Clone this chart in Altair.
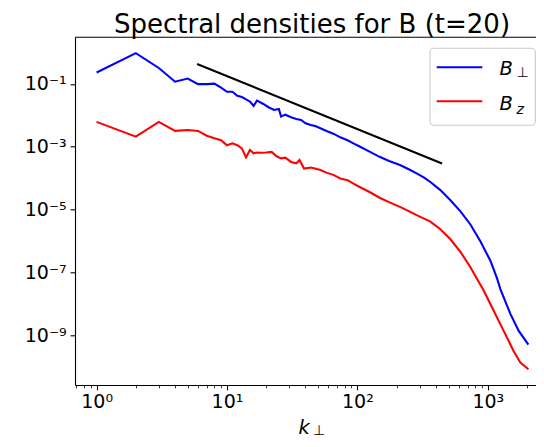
import altair as alt
import pandas as pd

# ---------------- data ----------------
title_text = "Spectral densities for B (t=20)"
series_names = ["B⊥", "Bz"]
series_colors = ["#0000ff", "#ff0000"]
legend_base = ["B", "B"]
legend_sub = ["⊥", "z"]

k_perp = [1, 2, 3, 4, 5, 6, 7, 8, 9, 10, 11, 12, 13, 14, 15, 16, 17, 19, 21, 23,
          25, 26, 28, 31, 34, 37, 40, 44, 48, 52, 58, 66, 74, 84, 94, 105, 125,
          148, 175, 212, 250, 287, 325, 363, 433, 517, 617, 736, 877, 1047,
          1178, 1249, 1490, 1727, 2048]
E_perp = [2.3e-1, 9.5e-1, 3.2e-1, 1.17e-1, 1.48e-1, 9.8e-2, 9.8e-2, 1.02e-1,
          7.6e-2, 5.6e-2, 5.6e-2, 4.2e-2, 3.8e-2, 3.2e-2, 2.75e-2, 2.0e-2,
          2.95e-2, 2.3e-2, 1.78e-2, 1.48e-2, 1.58e-2, 9.1e-3, 1.05e-2, 8.7e-3,
          7.6e-3, 7.1e-3, 5.6e-3, 4.9e-3, 4.5e-3, 3.9e-3, 3.16e-3, 2.57e-3,
          2.0e-3, 1.62e-3, 1.26e-3, 1.0e-3, 6.9e-4, 4.8e-4, 3.55e-4, 2.63e-4,
          1.9e-4, 1.41e-4, 1.05e-4, 7.6e-5, 4.2e-5, 2.0e-5, 8.9e-6, 3.4e-6,
          1.0e-6, 2.4e-7, 6.6e-8, 3.0e-8, 4.9e-9, 1.41e-9, 5.2e-10]

k_z = [1, 2, 3, 4, 5, 6, 7, 8, 9, 10, 11, 12, 13, 14, 15, 16, 17, 18, 20, 22,
       24, 26, 28, 31, 34, 36, 39, 44, 48, 52, 58, 66, 74, 84, 94, 105, 125,
       148, 175, 212, 250, 287, 325, 363, 433, 517, 617, 736, 828, 930, 1110,
       1324, 1580, 1779, 2048]
E_z = [6.2e-3, 2.1e-3, 6.2e-3, 3.2e-3, 3.4e-3, 3.2e-3, 2.24e-3, 1.86e-3,
       1.62e-3, 1.12e-3, 1.29e-3, 1.12e-3, 8.9e-4, 4.6e-4, 7.9e-4, 6.2e-4,
       6.6e-4, 6.5e-4, 6.6e-4, 6.9e-4, 5.0e-4, 4.3e-4, 4.5e-4, 3.3e-4, 3.0e-4,
       3.8e-4, 2.04e-4, 2.2e-4, 2.0e-4, 1.82e-4, 1.51e-4, 1.26e-4, 9.8e-5,
       8.7e-5, 6.6e-5, 5.2e-5, 3.6e-5, 2.4e-5, 1.74e-5, 1.23e-5, 8.9e-6,
       6.6e-6, 5.2e-6, 4.2e-6, 2.4e-6, 1.15e-6, 4.6e-7, 1.48e-7, 6.3e-8,
       2.7e-8, 6.2e-9, 1.41e-9, 3.2e-10, 1.38e-10, 8.5e-11]

ref_k = [5.9, 446]
ref_E = [4.3e-1, 2.95e-4]

x_major = [1, 10, 100, 1000]
x_major_labels = ["10⁰", "10¹", "10²", "10³"]
x_major_exp = [0, 1, 2, 3]
x_minor = [0.7, 0.8, 0.9, 2, 3, 4, 5, 6, 7, 8, 9, 20, 30, 40, 50, 60, 70, 80,
           90, 200, 300, 400, 500, 600, 700, 800, 900, 2000]
y_major = [1e-1, 1e-3, 1e-5, 1e-7, 1e-9]
y_major_labels = ["10⁻¹", "10⁻³", "10⁻⁵", "10⁻⁷", "10⁻⁹"]
y_major_exp = [-1, -3, -5, -7, -9]

x_domain = [0.683, 2343]
y_domain = [2.69e-11, 3.02]

# ---------------- tables ----------------
df = pd.DataFrame({
    "k": k_perp + k_z,
    "E": E_perp + E_z,
    "series": [series_names[0]] * len(k_perp) + [series_names[1]] * len(k_z),
})
ref_df = pd.DataFrame({"k": ref_k, "E": ref_E})
one = pd.DataFrame({"d": [0]})

FONT = "DejaVu Sans"
W = 461
H = 347.7


def label_expr(exps, labels):
    expr = "''"
    for e, lab in zip(reversed(exps), reversed(labels)):
        expr = f"round(log(datum.value)/LN10) == {e} ? '{lab}' : ({expr})"
    return expr


axis_common = dict(grid=False, title=None, domainColor="black", domainWidth=1.1,
                   tickColor="black", tickWidth=1.1, labelColor="black",
                   labelFont=FONT, labelFontSize=19)

x_scale = alt.Scale(type="log", domain=x_domain, nice=False)
y_scale = alt.Scale(type="log", domain=y_domain, nice=False)

x_axis_major = alt.Axis(values=x_major, labelExpr=label_expr(x_major_exp, x_major_labels),
                        tickSize=4.9, labelPadding=3, orient="bottom",
                        labelOverlap=False, labelFlush=False, **axis_common)
x_axis_minor = alt.Axis(values=x_minor, labels=False, domain=False, tickSize=2.8,
                        tickWidth=0.8, tickColor="black", grid=False, title=None,
                        orient="bottom")
y_axis = alt.Axis(values=y_major, labelExpr=label_expr(y_major_exp, y_major_labels),
                  tickSize=4.9, labelPadding=4, orient="left",
                  labelOverlap=False, labelFlush=False, **axis_common)

lines = alt.Chart(df).mark_line(strokeWidth=2.1, clip=True).encode(
    x=alt.X("k:Q", scale=x_scale, axis=x_axis_major),
    y=alt.Y("E:Q", scale=y_scale, axis=y_axis),
    color=alt.Color("series:N", scale=alt.Scale(domain=series_names, range=series_colors),
                    legend=None),
    order="k:Q",
)

ref_line = alt.Chart(ref_df).mark_line(strokeWidth=2.1, color="black").encode(
    x=alt.X("k:Q", scale=x_scale, axis=x_axis_minor),
    y=alt.Y("E:Q", scale=y_scale, axis=y_axis),
)

# top spine (the right one lies outside the cropped picture)
top_spine = alt.Chart(one).mark_rule(color="black", strokeWidth=1.1).encode(
    x=alt.value(0), x2=alt.value(W), y=alt.value(0))

# ---------------- legend (drawn by hand for sub-scripts) ----------------
leg_box = alt.Chart(one).mark_rect(
    fill="white", fillOpacity=0.8, stroke="#cccccc", strokeWidth=1.1, cornerRadius=4
).encode(x=alt.value(355), x2=alt.value(460.4), y=alt.value(11), y2=alt.value(88))

leg_layers = [leg_box]
row_y = [30, 64]
base_baseline = [37.8, 72.8]
sub_baseline = [39.8, 76.2]
sub_style = ["normal", "italic"]
for i in range(2):
    leg_layers.append(
        alt.Chart(one).mark_rule(color=series_colors[i], strokeWidth=2.1).encode(
            x=alt.value(361.7), x2=alt.value(407.3), y=alt.value(row_y[i]))
    )
    leg_layers.append(
        alt.Chart(one).mark_text(text=legend_base[i], font=FONT, fontSize=19.5,
                                 fontStyle="italic", align="left", baseline="alphabetic",
                                 color="black").encode(
            x=alt.value(424.5), y=alt.value(base_baseline[i]))
    )
    leg_layers.append(
        alt.Chart(one).mark_text(text=legend_sub[i], font=FONT, fontSize=14,
                                 fontStyle=sub_style[i], align="left", baseline="alphabetic",
                                 color="black").encode(
            x=alt.value(441.5), y=alt.value(sub_baseline[i]))
    )

# x axis title k⊥
xt_k = alt.Chart(one).mark_text(text="k", font=FONT, fontSize=19.5, fontStyle="italic",
                                align="left", baseline="alphabetic", color="black").encode(
    x=alt.value(223.5), y=alt.value(396.5))
xt_sub = alt.Chart(one).mark_text(text="⊥", font=FONT, fontSize=14,
                                  align="left", baseline="alphabetic", color="black").encode(
    x=alt.value(238), y=alt.value(398))

chart = alt.layer(lines, ref_line, top_spine, *leg_layers, xt_k, xt_sub).resolve_axis(
    x="independent"
).properties(
    width=W,
    height=H,
    title=alt.TitleParams(text=title_text, font=FONT, fontSize=26, fontWeight="normal",
                          color="black", anchor="middle", baseline="alphabetic",
                          offset=3, dx=6.5, dy=25.5),
    autosize=alt.AutoSizeParams(type="none"),
    padding={"left": 67, "top": 29.3, "right": 0, "bottom": 54},
    background="white",
).configure_view(stroke=None)

chart.save("out.html", embed_options={"renderer": "svg", "actions": False})
